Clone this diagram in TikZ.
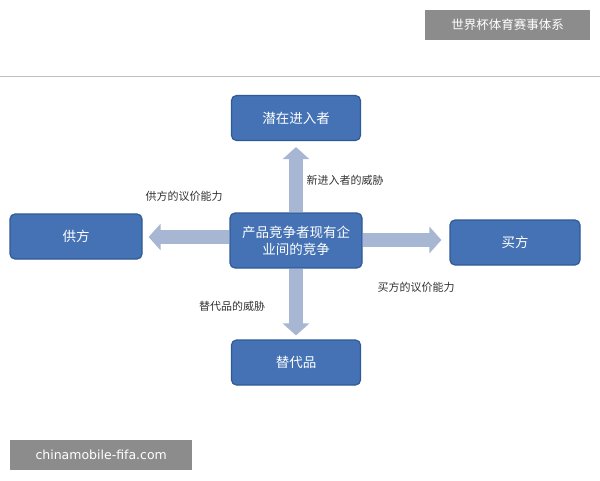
\documentclass[tikz,border=0pt]{standalone}
\usepackage{fontspec}
\newfontfamily\cjk{Noto Sans CJK SC}
\usetikzlibrary{arrows.meta}
\definecolor{boxblue}{HTML}{4472B4}
\definecolor{boxedge}{HTML}{2F5A95}
\definecolor{arr}{HTML}{A7B6D2}
\definecolor{tagbg}{HTML}{8C8C8C}
\tikzset{
  box/.style={draw=boxedge,line width=1.2pt,fill=boxblue,rounded corners=5pt,text=white,font=\cjk\fontsize{13.5}{15}\selectfont,minimum width=129pt,minimum height=45pt,align=center,inner sep=2pt},
  blk/.style={draw=arr,line width=14pt,-{Triangle[width=26pt,length=12pt]}},
  lbl/.style={font=\cjk\fontsize{11}{12}\selectfont,text=black!80},
  tag/.style={fill=tagbg,text=white,inner sep=0pt,anchor=north west}
}
\begin{document}
\begin{tikzpicture}[x=1pt,y=-1pt]
\useasboundingbox (0,0) rectangle (600,480);
\fill[white] (0,0) rectangle (600,480);
\draw[gray!50,line width=0.8pt] (0,76) -- (600,76);
\node[tag,minimum width=165pt,minimum height=30pt,font=\cjk\fontsize{12.5}{14}\selectfont] (t1) at (425,10) {世界杯体育赛事体系};
\node[tag,minimum width=182pt,minimum height=30pt,font=\fontspec{DejaVu Sans}\fontsize{12.5}{14}\selectfont] (t2) at (10,440) {chinamobile-fifa.com};
\node[box] (top) at (296,118) {潜在进入者};
\node[box,minimum width=132pt] (left) at (76,236.5) {供方};
\node[box,minimum width=132pt,minimum height=55pt,font=\cjk\fontsize{13.5}{17}\selectfont] (mid) at (296,240.5) {产品竞争者现有企\\业间的竞争};
\node[box,minimum width=130pt] (right) at (515,242.5) {买方};
\node[box] (bot) at (296,362.5) {替代品};
\coordinate (la) at (0,237);
\coordinate (ra) at (0,240);
\draw[blk] (mid.north) -- ([yshift=-6pt]top.south);
\draw[blk] (mid.west |- la) -- ([xshift=6pt]left.east |- la);
\draw[blk] (mid.east |- ra) -- ([xshift=-8pt]right.west |- ra);
\draw[blk] (mid.south) -- ([yshift=4pt]bot.north);
\node[lbl] (l1) at (345,180) {新进入者的威胁};
\node[lbl] (l2) at (184,196) {供方的议价能力};
\node[lbl] (l3) at (416,287) {买方的议价能力};
\node[lbl] (l4) at (232,306) {替代品的威胁};
\end{tikzpicture}
\end{document}
